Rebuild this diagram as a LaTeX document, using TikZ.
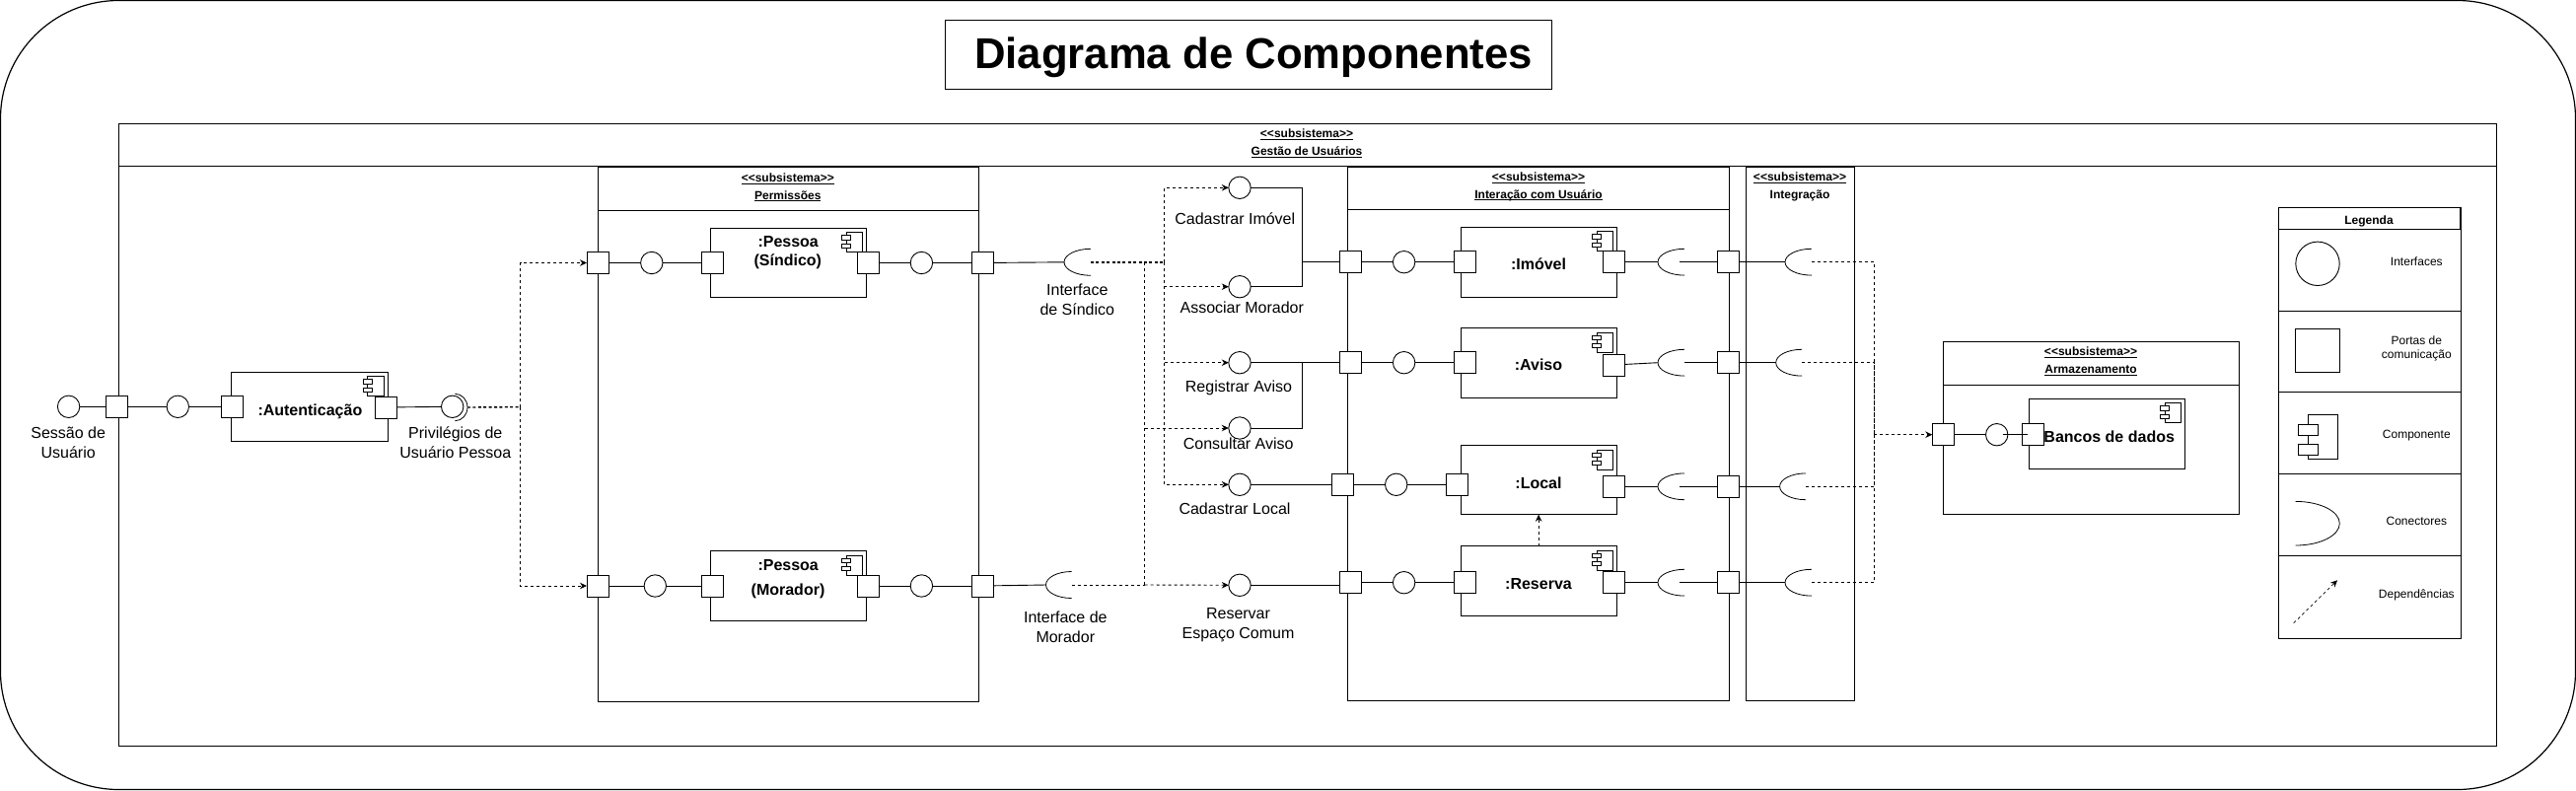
\documentclass[tikz,border=0pt]{standalone}
\usepackage{fontspec}
\setmainfont{Liberation Sans}
\usetikzlibrary{arrows.meta,fit,calc}
\newcommand{\ulin}[1]{\setbox0=\hbox{#1}\rlap{\vrule width\wd0 height -1.4pt depth 2.3pt}\box0}
\newcommand{\subs}{<{}<subsistema>{}>}
\tikzset{
  ln/.style={line width=.9pt,draw=black},
  heavy/.style={line width=1.4pt,draw=black},
  boxed/.style={ln,fit={#1},inner sep=0pt,outer sep=0pt,fill=white},
  ifport/.style={ln,fill=white,rectangle,minimum width=22pt,minimum height=22pt,inner sep=0pt,outer sep=0pt},
  ifcirc/.style={ln,fill=white,circle,minimum size=22.4pt,inner sep=0pt,outer sep=0pt},
  dep/.style={line width=.9pt,draw=black,dash pattern=on 3pt off 3pt},
  depbold/.style={line width=1.4pt,draw=black,dash pattern=on 3pt off 2.4pt},
  tip/.style={-{Stealth[length=7pt,width=6.5pt]}},
  lab/.style={font=\fontsize{16}{20}\selectfont,align=center,inner sep=0pt},
  lab1/.style={font=\fontsize{16}{20}\selectfont,inner sep=0pt,text height=11.5pt,text depth=0pt},
  cname/.style={font=\fontsize{16}{20}\selectfont\bfseries,inner sep=0pt,text height=11.5pt,text depth=0pt},
  hd/.style={font=\fontsize{12}{14}\selectfont\bfseries,inner sep=0pt,text height=8.6pt,text depth=0pt},
  leg/.style={font=\fontsize{12}{14}\selectfont,align=center,inner sep=0pt},
  cicon/.pic={
    \draw[line width=.8pt] (-20.3,4.4) rectangle (-3.6,24.2);
    \draw[line width=.8pt,fill=white] (-24.7,7.4) rectangle (-16.1,11.8);
    \draw[line width=.8pt,fill=white] (-24.7,15.6) rectangle (-16.1,20);
  },
}
% half-ellipse socket: name, bulge x, tip x, centre y, half height
\newcommand{\socket}[5]{%
  \coordinate (#1-b) at (#2,#4);
  \coordinate (#1-t) at (#3,#4);
  \draw[ln,line width=.8pt] (#3,{#4-#5}) .. controls ({#3+.5523*(#2-#3)},{#4-#5}) and (#2,{#4-.5523*#5}) .. (#2,#4)
     .. controls (#2,{#4+.5523*#5}) and ({#3+.5523*(#2-#3)},{#4+#5}) .. (#3,{#4+#5});
}
\begin{document}
\begin{tikzpicture}[x=1pt,y=-1pt]
\useasboundingbox (0,0) rectangle (2612,801);
\fill[white] (0,0) rectangle (2612,801);
\draw[line width=1.2pt,rounded corners=120pt] (.5,.5) rectangle (2611.5,800.5);

% title
\node[boxed={(958.7,20) (1573.5,90)}] (titlebox) {};
\node[font=\fontsize{43.7}{50}\selectfont\bfseries,inner sep=0pt,text height=31.5pt,text depth=0pt] (title) at (1271,54) {Diagrama de Componentes};

% frames
\node[boxed={(120,125.7) (2531,756)}] (gestao) {};
\node[boxed={(120,125.7) (2531,168.7)}] (gestaoh) {};
\node[hd] (gestaot1) at (1325,135) {\ulin{\subs}};
\node[hd] (gestaot2) at (1325,153) {\ulin{Gestão de Usuários}};

\node[boxed={(606,169.5) (992.5,711)}] (perm) {};
\node[boxed={(606,169.5) (992.5,213)}] (permh) {};
\node[hd] (permt1) at (798.8,180) {\ulin{\subs}};
\node[hd] (permt2) at (798.8,197.7) {\ulin{Permissões}};

\node[boxed={(1366.8,169.3) (1753.6,710.3)}] (inter) {};
\node[boxed={(1366.8,169.3) (1753.6,212.7)}] (interh) {};
\node[hd] (intert1) at (1560,179.3) {\ulin{\subs}};
\node[hd] (intert2) at (1560,196.7) {\ulin{Interação com Usuário}};

\node[boxed={(1770.7,169.3) (1880.4,710.3)}] (integ) {};
\node[hd] (integt1) at (1825,179.3) {\ulin{\subs}};
\node[hd] (integt2) at (1825,196.7) {Integração};

\node[boxed={(1970.3,346.3) (2270.3,521.7)}] (arm) {};
\node[boxed={(1970.3,346.3) (2270.3,390)}] (armh) {};
\node[hd] (armt1) at (2120,356.3) {\ulin{\subs}};
\node[hd] (armt2) at (2120,374.3) {\ulin{Armazenamento}};

% components
\node[boxed={(234.9,377.3) (393,447.7)}] (aut) {};
\pic at (aut.north east) {cicon};
\node[boxed={(720,231.3) (878.3,301.7)}] (ps) {};
\pic at (ps.north east) {cicon};
\node[boxed={(720,558.7) (878.3,629.3)}] (pm) {};
\pic at (pm.north east) {cicon};
\node[boxed={(1481,230.3) (1639.3,301)}] (imo) {};
\pic at (imo.north east) {cicon};
\node[boxed={(1481,332.7) (1639.3,403)}] (avi) {};
\pic at (avi.north east) {cicon};
\node[boxed={(1481,451.7) (1639.3,521.7)}] (loc) {};
\pic at (loc.north east) {cicon};
\node[boxed={(1481,553.7) (1639.3,624)}] (res) {};
\pic at (res.north east) {cicon};
\node[boxed={(2057.3,404.3) (2215.3,475)}] (ban) {};
\pic at (ban.north east) {cicon};

\node[cname] (autt) at (314.4,415.7) {:Autenticação};
\node[cname] (pst1) at (799.2,244.7) {:Pessoa};
\node[cname] (pst2) at (798.8,263.7) {(Síndico)};
\node[cname] (pmt1) at (799.2,572.3) {:Pessoa};
\node[cname] (pmt2) at (799,597.7) {(Morador)};
\node[cname] (imot) at (1560,268) {:Imóvel};
\node[cname] (avit) at (1560,370) {:Aviso};
\node[cname] (loct) at (1560,489.7) {:Local};
\node[cname] (rest) at (1560,591.7) {:Reserva};
\node[cname] (bant) at (2138.7,442.7) {Bancos de dados};

% autenticação row
\node[ifcirc] (c1) at (69.6,412.3) {};
\node[ifport] (p1) at (118.6,412.3) {};
\node[ifcirc] (c2) at (180.3,412.3) {};
\node[ifport] (p2) at (235.7,412.3) {};
\node[ifport] (p3) at (391,413) {};
\node[ifcirc] (c3) at (458.7,412.3) {};
\socket{priv}{474}{461.4}{413}{13.7}
\node[lab] (t1) at (69.2,448.5) {Sessão de\\Usuário};
\node[lab] (t2) at (461.8,448.5) {Privilégios de\\Usuário Pessoa};

% pessoa síndico row
\node[ifport] (sa) at (606,266.5) {};
\node[ifcirc] (sb) at (660.8,266.5) {};
\node[ifport] (sc) at (722.5,266.5) {};
\node[ifport] (sd) at (880.6,266.5) {};
\node[ifcirc] (se) at (934.4,266.5) {};
\node[ifport] (sf) at (996,266.5) {};
\socket{ss}{1079}{1106}{265.8}{13.5}
\node[lab] (t3) at (1092.3,303.3) {Interface\\de Síndico};

% pessoa morador row
\node[ifport] (ma) at (606,594) {};
\node[ifcirc] (mb) at (664.3,594) {};
\node[ifport] (mc) at (722.5,594) {};
\node[ifport] (md) at (880.6,594) {};
\node[ifcirc] (me) at (934.4,594) {};
\node[ifport] (mf) at (996,594) {};
\socket{sm}{1060.5}{1086.6}{593}{13.5}
\node[lab] (t4) at (1080.3,635.7) {Interface de\\Morador};

% provided interfaces
\node[ifcirc] (ci1) at (1257,190.3) {};
\node[ifcirc] (ci2) at (1257,290.7) {};
\node[ifcirc] (ci3) at (1257,367.7) {};
\node[ifcirc] (ci4) at (1257,434) {};
\node[ifcirc] (ci5) at (1257,491.3) {};
\node[ifcirc] (ci6) at (1257,593.3) {};
\node[lab1] (t5) at (1252.3,221.3) {Cadastrar Imóvel};
\node[lab1] (t6) at (1259.3,311.3) {Associar Morador};
\node[lab1] (t7) at (1256,391.3) {Registrar Aviso};
\node[lab1] (t8) at (1255.7,450) {Consultar Aviso};
\node[lab1] (t9) at (1252,515.3) {Cadastrar Local};
\node[lab] (t10) at (1255.5,634) {Reservar\\Espaço Comum};

% interação rows
\node[ifport] (ia) at (1369.3,265.7) {};
\node[ifcirc] (ib) at (1423.6,265.7) {};
\node[ifport] (ic) at (1485,265.7) {};
\node[ifport] (id) at (1636.8,265.7) {};
\socket{i1}{1681}{1708}{265.7}{13.4}
\node[ifport] (ie) at (1752.9,265.7) {};
\socket{j1}{1810}{1836.8}{265.7}{13.4}

\node[ifport] (aa) at (1369.3,367.7) {};
\node[ifcirc] (ab) at (1423.6,367.7) {};
\node[ifport] (ac) at (1485,367.7) {};
\node[ifport] (ad) at (1636.8,370) {};
\socket{i2}{1681}{1708}{367.7}{13.4}
\node[ifport] (ae) at (1752.9,367.7) {};
\socket{j2}{1800.7}{1827}{367.7}{13.4}

\node[ifport] (la) at (1361.5,491.3) {};
\node[ifcirc] (lb) at (1415.7,491.3) {};
\node[ifport] (lc) at (1477.5,491.3) {};
\node[ifport] (ld) at (1636.8,493.3) {};
\socket{i3}{1681}{1708}{493.3}{13.4}
\node[ifport] (le) at (1752.9,493.3) {};
\socket{j3}{1804.6}{1831}{493.3}{13.4}

\node[ifport] (ra) at (1369.3,590.7) {};
\node[ifcirc] (rb) at (1423.6,590.7) {};
\node[ifport] (rc) at (1485,590.7) {};
\node[ifport] (rd) at (1636.8,590.7) {};
\socket{i4}{1681}{1708}{590.7}{13.4}
\node[ifport] (re) at (1752.9,590.7) {};
\socket{j4}{1810}{1836.8}{590.7}{13.4}

% armazenamento
\node[ifport] (da) at (1970.3,440.7) {};
\node[ifcirc] (db) at (2024.7,440.7) {};
\node[ifport] (dc) at (2061.3,440.7) {};

% solid connectors
\draw[ln] (c1) -- (p1);
\draw[ln] (p1) -- (c2);
\draw[ln] (c2) -- (p2);
\draw[ln] (p3) -- (c3);
\draw[ln] (sa) -- (sb);
\draw[ln] (sb) -- (sc);
\draw[ln] (sd) -- (se);
\draw[ln] (se) -- (sf);
\draw[ln] (sf) -- (ss-b);
\draw[ln] (ma) -- (mb);
\draw[ln] (mb) -- (mc);
\draw[ln] (md) -- (me);
\draw[ln] (me) -- (mf);
\draw[ln] (mf) -- (sm-b);
\coordinate (jim) at (1320.7,265.7);
\coordinate (jav) at (1320.7,367.7);
\draw[ln] (ci1) -| (jim);
\draw[ln] (ci2) -| (jim);
\draw[heavy] (jim) -- (ia);
\draw[ln] (ci3) -- (aa);
\draw[ln] (ci4) -| (jav);
\draw[heavy] (jav) -- (aa);
\draw[ln] (ci5) -- (la);
\draw[ln] (ci6) -- (ci6 -| ra.west);
\draw[ln] (ia) -- (ib);
\draw[heavy] (ib) -- (ic);
\draw[ln] (aa) -- (ab);
\draw[heavy] (ab) -- (ac);
\draw[ln] (la) -- (lb);
\draw[ln] (lb) -- (lc);
\draw[ln] (ra) -- (rb);
\draw[ln] (rb) -- (rc);
\draw[ln] (id) -- (i1-b);
\draw[ln] (ad) -- (i2-b);
\draw[ln] (ld) -- (i3-b);
\draw[ln] (rd) -- (i4-b);
\coordinate (k1) at (1702.5,265.7);
\coordinate (k3) at (1702.5,493.3);
\coordinate (k4) at (1702.5,590.7);
\draw[heavy] (k1) -- (ie);
\draw[ln] (i2-t) -- (ae);
\draw[ln] (k3) -- (le);
\draw[ln] (k4) -- (re);
\draw[ln] (ie) -- (j1-b);
\draw[ln] (ae) -- (j2-b);
\draw[ln] (le) -- (j3-b);
\draw[ln] (re) -- (j4-b);
\draw[ln] (da) -- (db);
\coordinate (k5) at (2030.7,440.7);
\coordinate (k6) at (2056,440.7);
\draw[heavy] (k5) -- (k6);

% dependencies
\coordinate (tp) at (527.5,412.7);
\draw[depbold] (priv-b) -- (tp);
\draw[dep,tip] (tp) |- (sa);
\draw[dep,tip] (tp) |- (ma);

\coordinate (ta) at (1180.7,265.8);
\coordinate (tb) at (1160.7,265.8);
\coordinate (tc) at (1160.7,593);
\draw[depbold] (ss-t) -- (ta);
\draw[dep,tip] (ta) |- (ci1);
\draw[dep,tip] (ta) |- (ci2);
\draw[dep,tip] (ta) |- (ci3);
\draw[dep,tip] (ta) |- (ci5);
\draw[dep] (tb) -- (tc);
\draw[dep,tip] (tc |- ci4) -- (ci4);
\draw[dep] (sm-t) -- (tc);
\draw[dep,tip] (tc) -- (ci6);

\coordinate (tq) at (1900.4,440.7);
\draw[dep] (j1-t) -| (tq);
\draw[dep] (j2-t) -| (tq);
\draw[dep] (j3-t) -| (tq);
\draw[dep] (j4-t) -| (tq);
\draw[dep,tip,line width=1.3pt] (tq) -- (da);
\draw[dep,tip] (res) -- (loc);

% legend
\node[boxed={(2310.3,210.3) (2495,647)}] (lg) {};
\node[boxed={(2310.3,210.3) (2495,232.7)},line width=1.3pt] (lg0) {};
\node[boxed={(2310.3,232.7) (2495,315.7)}] (lg1) {};
\node[boxed={(2310.3,315.7) (2495,397)}] (lg2) {};
\node[boxed={(2310.3,397) (2495,480.3)}] (lg3) {};
\node[boxed={(2310.3,480.3) (2495,563.7)}] (lg4) {};
\node[boxed={(2310.3,563.7) (2495,647)}] (lg5) {};
\node[hd] (lgt) at (2402,222.7) {Legenda};
\node[ln,circle,minimum size=44.4pt,inner sep=0pt] (lc1) at (2350,267.3) {};
\node[ln,rectangle,minimum size=44.4pt,inner sep=0pt] (lp1) at (2350,355.3) {};
\draw[ln] (2340.3,420.7) rectangle (2370,465);
\draw[ln,fill=white] (2330,430.7) rectangle (2350.7,441.3);
\draw[ln,fill=white] (2330,450.7) rectangle (2350.7,461.3);
\socket{lsock}{2372.3}{2327.7}{530.7}{22.3}
\coordinate (lda) at (2325.7,631.7);
\coordinate (ldb) at (2370,588.3);
\draw[dep,line width=.7pt,tip] (lda) -- (ldb);
\node[leg] (lt1) at (2450.3,265.7) {Interfaces};
\node[leg] (lt2) at (2450.3,353.7) {Portas de\\comunicação};
\node[leg] (lt3) at (2450.3,441.3) {Componente};
\node[leg] (lt4) at (2450.3,528.7) {Conectores};
\node[leg] (lt5) at (2450.3,603.7) {Dependências};
\end{tikzpicture}
\end{document}
